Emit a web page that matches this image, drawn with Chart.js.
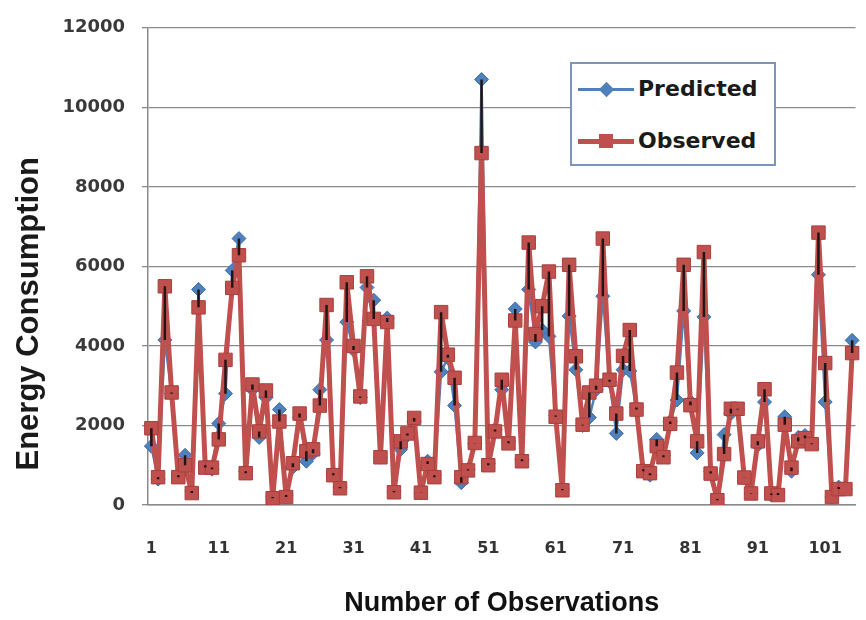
<!DOCTYPE html>
<html><head><meta charset="utf-8">
<script src="https://cdn.jsdelivr.net/npm/chart.js@4.4.1/dist/chart.umd.min.js"></script>
<style>
html,body{margin:0;padding:0;background:#fff;}
#wrap{position:relative;width:866px;height:620px;}
#legend{position:absolute;left:570px;top:62px;width:206px;height:104px;border:2px solid #7d95b8;background:#fff;box-sizing:border-box;font:bold 22px "DejaVu Sans",sans-serif;color:#1a1a1a;}
.item{position:absolute;left:6px;height:30px;width:190px;}
.item .ln{position:absolute;left:0;width:56px;}
.item .mk{position:absolute;}
.item .tx{position:absolute;left:60px;top:0;line-height:30px;white-space:nowrap;}
</style></head>
<body><div id="wrap"><canvas id="c" width="866" height="620"></canvas>
<div id="legend"></div></div>
<script>
const categories = [1,2,3,4,5,6,7,8,9,10,11,12,13,14,15,16,17,18,19,20,21,22,23,24,25,26,27,28,29,30,31,32,33,34,35,36,37,38,39,40,41,42,43,44,45,46,47,48,49,50,51,52,53,54,55,56,57,58,59,60,61,62,63,64,65,66,67,68,69,70,71,72,73,74,75,76,77,78,79,80,81,82,83,84,85,86,87,88,89,90,91,92,93,94,95,96,97,98,99,100,101,102,103,104,105];
const xTickLabels = [1,11,21,31,41,51,61,71,81,91,101];
const yTicks = [0,2000,4000,6000,8000,10000,12000];
const predicted = [1480,650,4150,2800,750,1250,350,5420,1000,900,2050,2800,5900,6700,850,2900,1700,2700,200,2400,250,950,2200,1100,1300,2900,4150,800,450,4600,3900,2700,5470,5150,1200,4700,350,1400,1750,2100,300,1100,750,3350,3700,2500,560,900,1550,10700,1050,1900,2900,1600,4930,1150,5420,4100,4400,4240,2250,400,4750,3400,2000,2200,2900,5250,3100,1800,3400,3370,2450,900,750,1650,1250,2100,2640,4880,2600,1310,4730,850,150,1770,2300,2400,700,300,1500,2590,250,300,2220,850,1700,1750,1550,5790,2590,200,450,400,4140];
const observed = [1930,700,5500,2830,700,1000,300,4970,940,940,1650,3650,5460,6280,800,3030,1850,2880,170,2100,200,1050,2300,1350,1400,2500,5030,750,420,5600,4000,2730,5750,4680,1200,4600,320,1600,1800,2190,310,1030,700,4850,3780,3200,700,870,1560,8850,1000,1850,3150,1550,4640,1100,6600,4300,5000,5870,2220,370,6040,3740,2020,2830,3000,6700,3150,2300,3750,4400,2400,850,800,1480,1200,2040,3330,6040,2510,1600,6360,790,120,1280,2420,2420,690,290,1600,2910,290,250,2020,940,1600,1680,1530,6850,3570,200,400,400,3820];
const seriesNames = ['Predicted','Observed'];
const yTitle = 'Energy Consumption';
const xTitle = 'Number of Observations';
const blue = '#4F81BD', red = '#C0504D';

const hiLo = {
  id:'hiLo',
  afterDatasetsDraw(chart){
    const a = chart.getDatasetMeta(0).data, b = chart.getDatasetMeta(1).data;
    const ctx = chart.ctx;
    ctx.save(); ctx.strokeStyle='#241515'; ctx.lineWidth=2.5; ctx.beginPath();
    for(let i=0;i<a.length && i<b.length;i++){ ctx.moveTo(a[i].x,a[i].y); ctx.lineTo(b[i].x,b[i].y); }
    ctx.stroke(); ctx.restore();
  }
};

new Chart(document.getElementById('c'), {
  type:'line',
  data:{
    labels:categories,
    datasets:[
      {label:seriesNames[0], data:predicted, borderColor:blue, backgroundColor:blue, borderWidth:2.5, borderJoinStyle:'round',
       pointStyle:'rectRot', pointRadius:7, pointBorderWidth:1, pointBorderColor:'#3f6fa8', tension:0, order:1},
      {label:seriesNames[1], data:observed, borderColor:red, backgroundColor:red, borderWidth:5, borderJoinStyle:'round',
       pointStyle:'rect', pointRadius:9.5, pointBorderWidth:1, pointBorderColor:'#a83f3c', tension:0, order:0}
    ]
  },
  options:{
    responsive:false, animation:false, devicePixelRatio:1,
    layout:{padding:{top:18,right:4,bottom:0,left:0}},
    plugins:{legend:{display:false}, tooltip:{enabled:false}},
    scales:{
      x:{
        type:'category', offset:true,
        grid:{display:false, drawTicks:true, tickLength:34},
        border:{display:true, color:'#8a8a8a', width:1.5},
        ticks:{autoSkip:false, maxRotation:0, padding:0, color:'#333',
          font:{family:'DejaVu Sans', weight:'bold', size:16},
          callback:function(v,i){ const c = categories[i]; return xTickLabels.includes(c) ? String(c) : ''; }},
        title:{display:true, text:xTitle, color:'#111',
          font:{family:'Liberation Sans', weight:'bold', size:27}, padding:{top:0,bottom:0}},
        afterFit:function(s){ s.height = 115; }
      },
      y:{
        min:yTicks[0], max:yTicks[yTicks.length-1],
        afterBuildTicks:function(s){ s.ticks = yTicks.map(v=>({value:v})); },
        grid:{color:'#8a8a8a', lineWidth:1.3, tickLength:6, tickColor:'#8a8a8a'},
        border:{display:true, color:'#8a8a8a', width:1.5},
        ticks:{padding:17, color:'#3a3a3a', font:{family:'DejaVu Sans', weight:'bold', size:18},
          callback:function(v){ return String(v); }},
        title:{display:true, text:yTitle + '\u00a0'.repeat(11), color:'#1a1a1a',
          font:{family:'Liberation Sans', weight:'bold', size:31}, padding:{top:11,bottom:0}},
        afterFit:function(s){ s.width = 148; }
      }
    }
  },
  plugins:[hiLo]
});

// legend built from series names
const lg = document.getElementById('legend');
const styles = [
  {top:10, line:{h:3,c:blue}, mk:{w:11,h:11,c:blue,rot:true}},
  {top:62, line:{h:5,c:red}, mk:{w:14,h:14,c:red,rot:false}}
];
seriesNames.forEach((n,i)=>{
  const s = styles[i];
  const it = document.createElement('div'); it.className='item'; it.style.top = s.top+'px';
  const ln = document.createElement('div'); ln.className='ln';
  ln.style.height = s.line.h+'px'; ln.style.top = (15 - s.line.h/2)+'px'; ln.style.background = s.line.c;
  const mk = document.createElement('div'); mk.className='mk';
  mk.style.width = s.mk.w+'px'; mk.style.height = s.mk.h+'px'; mk.style.background = s.mk.c;
  mk.style.left = (28 - s.mk.w/2)+'px'; mk.style.top = (15 - s.mk.h/2)+'px';
  if (s.mk.rot) mk.style.transform = 'rotate(45deg)';
  const tx = document.createElement('div'); tx.className='tx'; tx.textContent = n;
  it.appendChild(ln); it.appendChild(mk); it.appendChild(tx); lg.appendChild(it);
});
</script>
</body></html>
